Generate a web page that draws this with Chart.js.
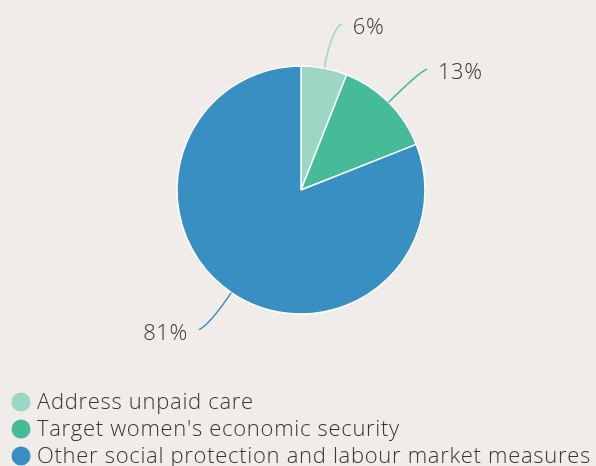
<!DOCTYPE html>
<html>
<head>
<meta charset="utf-8">
<script src="https://cdn.jsdelivr.net/npm/chart.js@4.4.1/dist/chart.umd.min.js"></script>
<style>
  html, body { margin: 0; padding: 0; background: #efece9; }
  #wrap { width: 596px; height: 466px; position: relative; }
</style>
</head>
<body>
<div id="wrap"><canvas id="pie"></canvas></div>
<script>
// data
const CATEGORIES = [ 'Address unpaid care', "Target women's economic security", 'Other social protection and labour market measures' ];
const SHARES = [ 6, 13, 81 ];
const SLICE_COLORS = [ '#9dd6c4', '#45bb97', '#3790c1' ];

const FONT_FAMILY = '"Open Sans", sans-serif';
const TEXT_COLOR = '#363636';

// curved leader lines + percent labels
const leaderLabels = {
  id: 'leaderLabels',
  afterDatasetsDraw( chart ) {
    const ctx = chart.ctx;
    const meta = chart.getDatasetMeta( 0 );
    ctx.save();
    meta.data.forEach( ( arc, i ) => {
      const mid = ( arc.startAngle + arc.endAngle ) / 2;
      const dx = Math.cos( mid ), dy = Math.sin( mid );
      const r = arc.outerRadius;
      const p0 = [ arc.x + dx * r, arc.y + dy * r ];
      const c = [ arc.x + dx * ( r + 40 ), arc.y + dy * ( r + 40 ) ];
      const side = dx >= 0 ? 1 : -1;
      const p2 = [ c[ 0 ] + side * 10, c[ 1 ] + ( dy < 0 ? -5 : 4 ) ];
      ctx.strokeStyle = SLICE_COLORS[ i ];
      ctx.lineWidth = 1.5;
      ctx.beginPath();
      ctx.moveTo( p0[ 0 ], p0[ 1 ] );
      ctx.quadraticCurveTo( c[ 0 ], c[ 1 ], p2[ 0 ], p2[ 1 ] );
      ctx.stroke();

      ctx.fillStyle = TEXT_COLOR;
      ctx.font = '300 22px ' + FONT_FAMILY;
      ctx.letterSpacing = '0.6px';
      ctx.textBaseline = 'middle';
      ctx.textAlign = side > 0 ? 'left' : 'right';
      ctx.fillText( SHARES[ i ] + '%', p2[ 0 ] + side * 11, p2[ 1 ] + 4 );
    } );
    ctx.restore();
  }
};

// legend drawn as a single column under the pie
const columnLegend = {
  id: 'columnLegend',
  afterDraw( chart ) {
    const ctx = chart.ctx;
    ctx.save();
    CATEGORIES.forEach( ( name, i ) => {
      const y = 402 + i * 27;
      ctx.fillStyle = SLICE_COLORS[ i ];
      ctx.beginPath();
      ctx.arc( 21, y, 9.5, 0, Math.PI * 2 );
      ctx.fill();
      ctx.fillStyle = TEXT_COLOR;
      ctx.font = '300 22px ' + FONT_FAMILY;
      ctx.letterSpacing = '0.7px';
      ctx.textBaseline = 'middle';
      ctx.textAlign = 'left';
      ctx.fillText( name, 37, y + 1 );
    } );
    ctx.restore();
  }
};

new Chart( document.getElementById( 'pie' ), {
  type: 'pie',
  data: {
    labels: CATEGORIES,
    datasets: [ {
      data: SHARES,
      backgroundColor: SLICE_COLORS,
      borderColor: '#ffffff',
      borderWidth: 1.5,
      radius: 124
    } ]
  },
  options: {
    responsive: true,
    maintainAspectRatio: false,
    animation: false,
    layout: { padding: { left: 6, right: 0, top: 0, bottom: 86 } },
    plugins: {
      legend: { display: false },
      tooltip: { enabled: false }
    }
  },
  plugins: [ leaderLabels, columnLegend ]
} );
</script>
</body>
</html>
